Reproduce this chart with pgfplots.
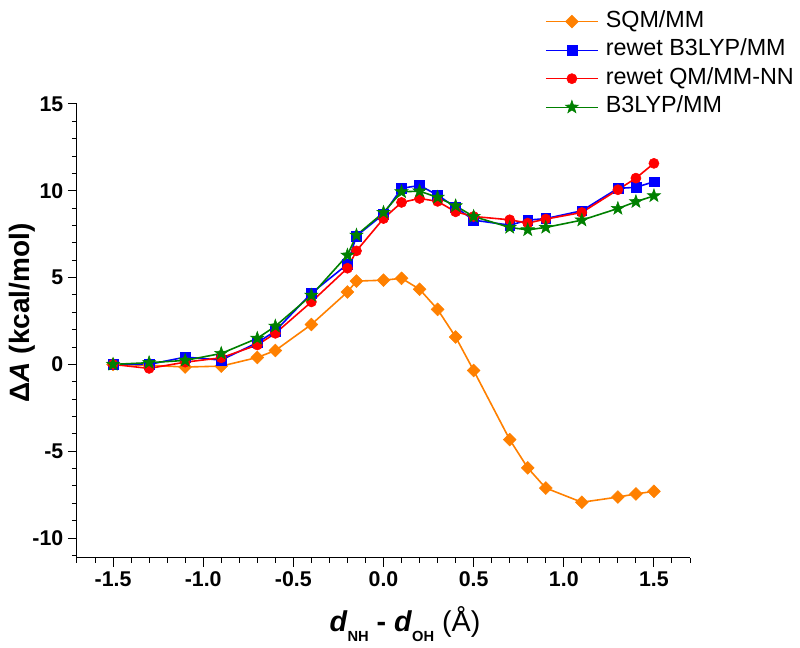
\documentclass[border=0pt]{standalone}
\usepackage{fontspec}
\setmainfont{Liberation Sans}
\usepackage{pgfplots}
\pgfplotsset{compat=1.18}

\definecolor{sqmorange}{RGB}{255,128,0}
\definecolor{b3green}{RGB}{0,128,0}

% filled five-point star
\pgfdeclareplotmark{fstar}{%
  \pgfpathmoveto{\pgfpointpolar{90}{\pgfplotmarksize}}%
  \pgfpathlineto{\pgfpointpolar{126}{0.4\pgfplotmarksize}}%
  \pgfpathlineto{\pgfpointpolar{162}{\pgfplotmarksize}}%
  \pgfpathlineto{\pgfpointpolar{198}{0.4\pgfplotmarksize}}%
  \pgfpathlineto{\pgfpointpolar{234}{\pgfplotmarksize}}%
  \pgfpathlineto{\pgfpointpolar{270}{0.4\pgfplotmarksize}}%
  \pgfpathlineto{\pgfpointpolar{306}{\pgfplotmarksize}}%
  \pgfpathlineto{\pgfpointpolar{342}{0.4\pgfplotmarksize}}%
  \pgfpathlineto{\pgfpointpolar{18}{\pgfplotmarksize}}%
  \pgfpathlineto{\pgfpointpolar{54}{0.4\pgfplotmarksize}}%
  \pgfpathclose
  \pgfusepathqfillstroke}

\begin{document}
\begin{tikzpicture}
\path[use as bounding box] (-57.75pt,-67.5pt) rectangle (542.25pt,418.5pt);
\begin{axis}[
    scale only axis,
    width=459.75pt, height=340.5pt,
    xmin=-1.7, xmax=1.7,
    ymin=-11.15, ymax=15,
    axis lines=left,
    axis line style={-, line width=0.75pt},
    tick align=outside,
    major tick length=6.75pt,
    minor tick length=3.75pt,
    every tick/.style={black, line width=0.75pt},
    xtick={-1.5,-1,-0.5,0,0.5,1,1.5},
    minor xtick={-1.7,-1.6,-1.4,-1.3,-1.2,-1.1,-0.9,-0.8,-0.7,-0.6,-0.4,-0.3,-0.2,-0.1,0.1,0.2,0.3,0.4,0.6,0.7,0.8,0.9,1.1,1.2,1.3,1.4,1.6,1.7},
    ytick={-10,-5,0,5,10,15},
    minor ytick={-11,-9,-8,-7,-6,-4,-3,-2,-1,1,2,3,4,6,7,8,9,11,12,13,14},
    /pgf/number format/assume math mode=true,
    tick label style={font=\bfseries\fontsize{16}{16}\selectfont},
    xticklabel style={/pgf/number format/.cd, fixed, fixed zerofill, precision=1},
    xlabel={\textbf{\textit{d}\raisebox{-7.5pt}{\fontsize{11}{11}\selectfont NH} - \textit{d}\raisebox{-7.5pt}{\fontsize{11}{11}\selectfont OH}} (Å)},
    xlabel style={font=\fontsize{21.5}{21.5}\selectfont, at={(axis description cs:0.535,-0.163)}, anchor=base, inner sep=0pt},
    ylabel={\textbf{Δ\textit{A} (kcal/mol)}},
    ylabel style={font=\fontsize{21}{21}\selectfont, at={(axis description cs:-0.067,0.54)}, anchor=south, inner sep=0pt},
    legend style={at={(0.7635,1.2048)}, anchor=north west, draw=none, fill=none,
        inner sep=0pt, row sep=5.9pt, column sep=5.5pt,
        font=\fontsize{17.5}{17.5}\selectfont,
        nodes={inner sep=0pt, text height=12pt, text depth=3.5pt}},
    legend cell align=left,
    legend image code/.code={\draw[line width=0.9pt, mark repeat=2,mark phase=2] plot coordinates {(0pt,0pt)(19.5pt,0pt)(39pt,0pt)};},
]
\addplot[sqmorange, line width=1.2pt, mark=square*, mark size=3.4pt, mark options={rotate=45, solid, line width=0.4pt}] coordinates {
(-1.5,0) (-1.3,-0.05) (-1.1,-0.15) (-0.9,-0.1) (-0.7,0.4) (-0.6,0.8) (-0.4,2.3) (-0.2,4.17) (-0.15,4.8)
(0,4.85) (0.1,4.96) (0.2,4.33) (0.3,3.17) (0.4,1.58) (0.5,-0.35) (0.7,-4.33) (0.8,-5.96) (0.9,-7.12)
(1.1,-7.94) (1.3,-7.64) (1.4,-7.46) (1.5,-7.31)
};
\addlegendentry{SQM/MM}
\addplot[blue, line width=1.2pt, mark=square*, mark size=3.7pt, mark options={solid, line width=0.4pt}] coordinates {
(-1.5,0) (-1.3,0.0) (-1.1,0.42) (-0.9,0.25) (-0.7,1.25) (-0.6,1.92) (-0.4,4.1) (-0.2,5.77) (-0.15,7.4)
(0,8.65) (0.1,10.14) (0.2,10.31) (0.3,9.75) (0.4,9.05) (0.5,8.31) (0.7,8.02) (0.8,8.31) (0.9,8.4)
(1.1,8.85) (1.3,10.14) (1.4,10.2) (1.5,10.52)
};
\addlegendentry{rewet B3LYP/MM}
\addplot[red, line width=1.2pt, mark=*, mark size=3.8pt, mark options={solid, line width=0.4pt}] coordinates {
(-1.5,0) (-1.3,-0.23) (-1.1,0.13) (-0.9,0.38) (-0.7,1.12) (-0.6,1.79) (-0.4,3.6) (-0.2,5.54) (-0.15,6.54)
(0,8.4) (0.1,9.33) (0.2,9.56) (0.3,9.39) (0.4,8.79) (0.5,8.52) (0.7,8.33) (0.8,8.14) (0.9,8.37)
(1.1,8.75) (1.3,10.06) (1.4,10.73) (1.5,11.58)
};
\addlegendentry{rewet QM/MM-NN}
\addplot[b3green, line width=1.2pt, mark=fstar, mark size=5.2pt, mark options={solid, line width=0.4pt}] coordinates {
(-1.5,0) (-1.3,0.1) (-1.1,0.23) (-0.9,0.63) (-0.7,1.5) (-0.6,2.2) (-0.4,3.98) (-0.2,6.29) (-0.15,7.44)
(0,8.75) (0.1,9.94) (0.2,9.98) (0.3,9.62) (0.4,9.13) (0.5,8.52) (0.7,7.89) (0.8,7.75) (0.9,7.89)
(1.1,8.31) (1.3,8.98) (1.4,9.37) (1.5,9.71)
};
\addlegendentry{B3LYP/MM}
\end{axis}
\end{tikzpicture}
\end{document}
